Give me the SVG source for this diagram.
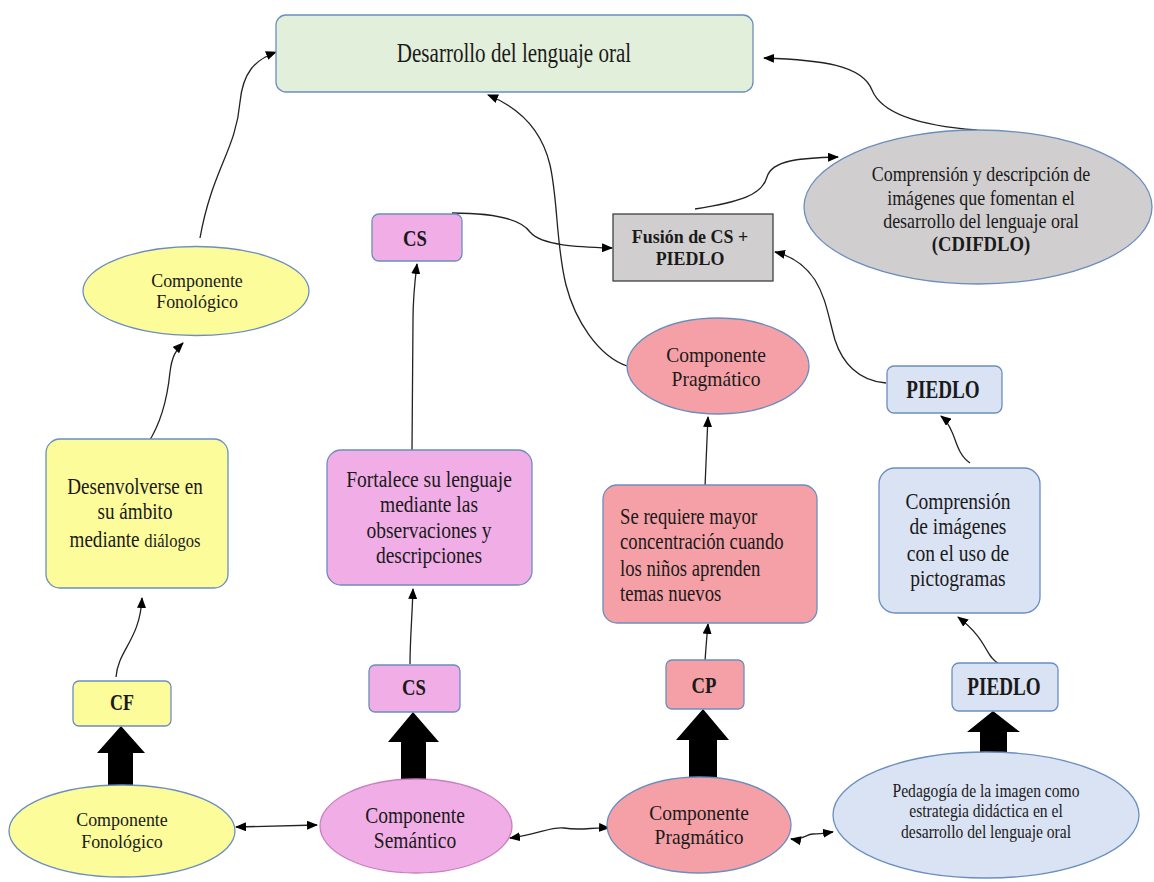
<svg xmlns="http://www.w3.org/2000/svg" width="1154" height="882" viewBox="0 0 1154 882">
<defs>
<style>
text{font-family:"Liberation Serif","DejaVu Serif",serif;fill:#1a1a1a;text-anchor:middle}
.b{font-weight:bold}
.l{text-anchor:start}
.n{stroke:#6a8ebf;stroke-width:1.3}
.yl{fill:#fdfc9a}
.pk{fill:#f1aee6}
.rd{fill:#f5a0a6}
.bl{fill:#dae3f3}
.gr{fill:#e2efda}
.gy{fill:#d0cece}
.c{fill:none;stroke:#222;stroke-width:1.3}
.blk{fill:#000}
</style>
<marker id="ah" markerUnits="userSpaceOnUse" markerWidth="11" markerHeight="9" refX="10" refY="4.5" orient="auto-start-reverse">
<path d="M0,0 L11,4.5 L0,9 z" fill="#000"/>
</marker>
</defs>
<rect width="1154" height="882" fill="#fff"/>

<g id="block-arrows">
<polygon class="blk" points="121,726 145,753 133,753 133,792 108,792 108,753 97,753"/>
<polygon class="blk" points="413,712 439,742 426,742 426,786 401,786 401,742 388,742"/>
<polygon class="blk" points="703,709 729,740 717,740 717,784 689,784 689,740 676,740"/>
<polygon class="blk" points="993,711 1020,732 1007,732 1007,760 980,760 980,732 967,732"/>
</g>

<g id="connectors">
<path class="c" d="M236,827 L317,825" marker-start="url(#ah)" marker-end="url(#ah)"/>
<path class="c" d="M510,838 C540,834 552,826 564,828 C582,831 592,827 609,828" marker-start="url(#ah)" marker-end="url(#ah)"/>
<path class="c" d="M791,839 C802,841 806,834 813,834 C820,834 826,833 833,832" marker-start="url(#ah)" marker-end="url(#ah)"/>
<path class="c" d="M116,677 C118,650 140,640 142,598" marker-end="url(#ah)"/>
<path class="c" d="M148,443 C163,420 168,392 170,372 C172,356 176,350 183,343" marker-end="url(#ah)"/>
<path class="c" d="M200,238 C212,170 236,150 240,102 C243,72 255,60 276,52" marker-end="url(#ah)"/>
<path class="c" d="M410,664 C410,640 412,620 413,589" marker-end="url(#ah)"/>
<path class="c" d="M412,450 L413,320 C413,295 415,280 417,264" marker-end="url(#ah)"/>
<path class="c" d="M452,213 C490,213 520,218 530,232 C542,246 580,247 612,248" marker-end="url(#ah)"/>
<path class="c" d="M627,366 C598,356 575,320 566,285 C556,245 558,200 550,165 C543,135 525,110 488,95" marker-end="url(#ah)"/>
<path class="c" d="M705,662 C706,645 707,635 708,624" marker-end="url(#ah)"/>
<path class="c" d="M705,487 C706,460 707,440 708,417" marker-end="url(#ah)"/>
<path class="c" d="M695,209 C740,202 762,195 767,177 C772,160 800,158 838,157" marker-end="url(#ah)"/>
<path class="c" d="M977,130 C922,126 882,115 872,90 C862,65 822,60 764,58" marker-end="url(#ah)"/>
<path class="c" d="M886,383 C858,381 842,362 835,340 C828,315 826,298 815,280 C805,265 792,256 775,252" marker-end="url(#ah)"/>
<path class="c" d="M970,463 C958,455 956,440 952,432 C949,425 946,420 941,416" marker-end="url(#ah)"/>
<path class="c" d="M998,663 C985,656 988,640 958,617" marker-end="url(#ah)"/>
</g>

<g id="desarrollo">
<rect class="n gr" x="276" y="15" width="477" height="77" rx="10"/>
<text transform="translate(514,62) scale(.78,1)" font-size="27">Desarrollo del lenguaje oral</text>
</g>

<g id="cdifdlo">
<ellipse class="n gy" cx="978" cy="207" rx="174" ry="77"/>
<text transform="translate(981,181) scale(.854,1)" font-size="21">Comprensión y descripción de</text>
<text transform="translate(981,205) scale(.854,1)" font-size="21">imágenes que fomentan el</text>
<text transform="translate(981,228) scale(.854,1)" font-size="21">desarrollo del lenguaje oral</text>
<text transform="translate(981,251) scale(.89,1)" font-size="21" class="b">(CDIFDLO)</text>
</g>

<g id="fusion">
<rect class="gy" x="613" y="214" width="160" height="67" stroke="#404040" stroke-width="1.3"/>
<text transform="translate(690,243) scale(.906,1)" font-size="19.8" class="b">Fusión de CS +</text>
<text transform="translate(690,265) scale(.906,1)" font-size="19.8" class="b">PIEDLO</text>
</g>

<g id="cs-top">
<rect class="n pk" x="372" y="214" width="90" height="47" rx="7"/>
<text transform="translate(415,246) scale(.78,1)" font-size="24" class="b">CS</text>
</g>

<g id="fonologico-top">
<ellipse class="n yl" cx="196" cy="291" rx="113" ry="44.5"/>
<text transform="translate(197,287) scale(.944,1)" font-size="19">Componente</text>
<text transform="translate(197,308) scale(.944,1)" font-size="19">Fonológico</text>
</g>

<g id="desenvolverse">
<rect class="n yl" x="46" y="439" width="182" height="149" rx="14"/>
<text transform="translate(135,494) scale(.85,1)" font-size="22.5">Desenvolverse en</text>
<text transform="translate(135,519) scale(.85,1)" font-size="22.5">su ámbito</text>
<text transform="translate(135,547) scale(.85,1)" font-size="22.5">mediante <tspan font-size="19.5">diálogos</tspan></text>
</g>

<g id="fortalece">
<rect class="n pk" x="327" y="450" width="205" height="135" rx="14"/>
<text transform="translate(429,487) scale(.867,1)" font-size="22.5">Fortalece su lenguaje</text>
<text transform="translate(429,512) scale(.867,1)" font-size="22.5">mediante las</text>
<text transform="translate(429,538) scale(.867,1)" font-size="22.5">observaciones y</text>
<text transform="translate(429,563) scale(.867,1)" font-size="22.5">descripciones</text>
</g>

<g id="pragmatico-top">
<ellipse class="n rd" cx="718" cy="366" rx="91" ry="48"/>
<text transform="translate(716,362) scale(.907,1)" font-size="21.5">Componente</text>
<text transform="translate(716,386) scale(.907,1)" font-size="21.5">Pragmático</text>
</g>

<g id="se-requiere">
<rect class="n rd" x="603" y="485" width="214" height="138" rx="14"/>
<text class="l" transform="translate(620,524) scale(.832,1)" font-size="22.5">Se requiere mayor</text>
<text class="l" transform="translate(620,549) scale(.832,1)" font-size="22.5">concentración cuando</text>
<text class="l" transform="translate(620,576) scale(.832,1)" font-size="22.5">los niños aprenden</text>
<text class="l" transform="translate(620,601) scale(.832,1)" font-size="22.5">temas nuevos</text>
</g>

<g id="piedlo-top">
<rect class="n bl" x="887" y="366" width="115" height="47" rx="7"/>
<text transform="translate(943,398) scale(.78,1)" font-size="24.5" class="b">PIEDLO</text>
</g>

<g id="comprension">
<rect class="n bl" x="879" y="468" width="161" height="145" rx="16"/>
<text transform="translate(958,509) scale(.867,1)" font-size="22.5">Comprensión</text>
<text transform="translate(958,534) scale(.867,1)" font-size="22.5">de imágenes</text>
<text transform="translate(958,561) scale(.867,1)" font-size="22.5">con el uso de</text>
<text transform="translate(958,586) scale(.867,1)" font-size="22.5">pictogramas</text>
</g>

<g id="cf">
<rect class="n yl" x="73" y="681" width="98" height="45" rx="6"/>
<text transform="translate(122,710) scale(.78,1)" font-size="23" class="b">CF</text>
</g>

<g id="cs-bottom">
<rect class="n pk" x="369" y="665" width="91" height="47" rx="6"/>
<text transform="translate(414,695) scale(.78,1)" font-size="24" class="b">CS</text>
</g>

<g id="cp">
<rect class="n rd" x="666" y="660" width="78" height="49" rx="6"/>
<text transform="translate(704,693) scale(.78,1)" font-size="24" class="b">CP</text>
</g>

<g id="piedlo-bottom">
<rect class="n bl" x="952" y="663" width="106" height="48" rx="7"/>
<text transform="translate(1004,695) scale(.78,1)" font-size="24.5" class="b">PIEDLO</text>
</g>

<g id="fonologico-bottom">
<ellipse class="n yl" cx="122" cy="831" rx="113" ry="46"/>
<text transform="translate(122,826) scale(.906,1)" font-size="19.8">Componente</text>
<text transform="translate(122,848) scale(.906,1)" font-size="19.8">Fonológico</text>
</g>

<g id="semantico">
<ellipse class="pk" cx="416" cy="826" rx="96" ry="47" stroke="#c77fc0" stroke-width="1.3"/>
<text transform="translate(415,823) scale(.867,1)" font-size="22.5">Componente</text>
<text transform="translate(415,848) scale(.867,1)" font-size="22.5">Semántico</text>
</g>

<g id="pragmatico-bottom">
<ellipse class="n rd" cx="699" cy="825" rx="92" ry="48"/>
<text transform="translate(699,820) scale(.907,1)" font-size="21.5">Componente</text>
<text transform="translate(699,844) scale(.907,1)" font-size="21.5">Pragmático</text>
</g>

<g id="pedagogia">
<ellipse class="n bl" cx="986" cy="815" rx="153" ry="63"/>
<text transform="translate(986,797) scale(.843,1)" font-size="18.5">Pedagogía de la imagen como</text>
<text transform="translate(986,817) scale(.843,1)" font-size="18.5">estrategia didáctica en el</text>
<text transform="translate(986,838) scale(.843,1)" font-size="18.5">desarrollo del lenguaje oral</text>
</g>
</svg>
